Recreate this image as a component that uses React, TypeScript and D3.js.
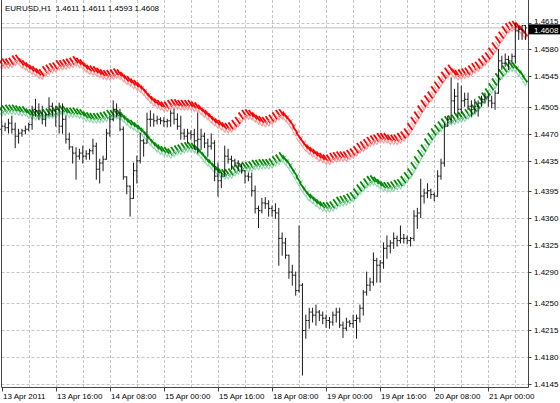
import React from 'react';
import * as d3 from 'd3';

const symbolTitle = 'EURUSD,H1';
const lastQuote = [1.4611, 1.4611, 1.4593, 1.4608];
const bidPrice = 1.4608;

const closes = [
  1.4480, 1.4478, 1.4484, 1.4476, 1.4467, 1.4471, 1.4474, 1.4476, 1.4482, 1.4502,
  1.4500, 1.4497, 1.4489, 1.4495, 1.4506, 1.4500, 1.4502, 1.4480, 1.4489, 1.4463,
  1.4453, 1.4445, 1.4441, 1.4445, 1.4441, 1.4444, 1.4448, 1.4454, 1.4424, 1.4432,
  1.4437, 1.4471, 1.4489, 1.4502, 1.4497, 1.4476, 1.4414, 1.4402, 1.4386, 1.4422,
  1.4435, 1.4461, 1.4458, 1.4489, 1.4489, 1.4487, 1.4489, 1.4487, 1.4486, 1.4487,
  1.4497, 1.4489, 1.4480, 1.4471, 1.4467, 1.4471, 1.4469, 1.4461, 1.4463, 1.4467,
  1.4458, 1.4454, 1.4458, 1.4415, 1.4409, 1.4415, 1.4441, 1.4437, 1.4435, 1.4432,
  1.4428, 1.4422, 1.4415, 1.4414, 1.4396, 1.4373, 1.4370, 1.4380, 1.4379, 1.4373,
  1.4370, 1.4367, 1.4334, 1.4328, 1.4312, 1.4290, 1.4286, 1.4266, 1.4273, 1.4214,
  1.4227, 1.4238, 1.4234, 1.4238, 1.4234, 1.4230, 1.4227, 1.4225, 1.4234, 1.4238,
  1.4221, 1.4217, 1.4225, 1.4223, 1.4227, 1.4230, 1.4243, 1.4264, 1.4273, 1.4277,
  1.4305, 1.4299, 1.4302, 1.4321, 1.4324, 1.4328, 1.4334, 1.4331, 1.4334, 1.4334,
  1.4331, 1.4334, 1.4363, 1.4367, 1.4389, 1.4393, 1.4396, 1.4391, 1.4389, 1.4415,
  1.4432, 1.4480, 1.4489, 1.4513, 1.4519, 1.4502, 1.4513, 1.4515, 1.4506, 1.4502,
  1.4506, 1.4510, 1.4515, 1.4518, 1.4513, 1.4510, 1.4523, 1.4565, 1.4562, 1.4567,
  1.4565, 1.4571, 1.4604, 1.4606, 1.4611, 1.4608,
];

const opens = [
  1.4476, 1.4480, 1.4478, 1.4484, 1.4476, 1.4467, 1.4471, 1.4474, 1.4476, 1.4482,
  1.4502, 1.4500, 1.4497, 1.4489, 1.4495, 1.4506, 1.4500, 1.4502, 1.4480, 1.4489,
  1.4463, 1.4453, 1.4445, 1.4441, 1.4445, 1.4441, 1.4444, 1.4448, 1.4454, 1.4424,
  1.4432, 1.4437, 1.4471, 1.4489, 1.4502, 1.4497, 1.4476, 1.4414, 1.4402, 1.4386,
  1.4422, 1.4435, 1.4461, 1.4458, 1.4489, 1.4489, 1.4487, 1.4489, 1.4487, 1.4486,
  1.4487, 1.4497, 1.4489, 1.4480, 1.4471, 1.4467, 1.4471, 1.4469, 1.4461, 1.4463,
  1.4467, 1.4458, 1.4454, 1.4458, 1.4415, 1.4409, 1.4415, 1.4441, 1.4437, 1.4435,
  1.4432, 1.4428, 1.4422, 1.4415, 1.4414, 1.4396, 1.4373, 1.4370, 1.4380, 1.4379,
  1.4373, 1.4370, 1.4367, 1.4334, 1.4328, 1.4312, 1.4290, 1.4286, 1.4266, 1.4273,
  1.4214, 1.4227, 1.4238, 1.4234, 1.4238, 1.4234, 1.4230, 1.4227, 1.4225, 1.4234,
  1.4238, 1.4221, 1.4217, 1.4225, 1.4223, 1.4227, 1.4230, 1.4243, 1.4264, 1.4273,
  1.4277, 1.4305, 1.4299, 1.4302, 1.4321, 1.4324, 1.4328, 1.4334, 1.4331, 1.4334,
  1.4334, 1.4331, 1.4334, 1.4363, 1.4367, 1.4389, 1.4393, 1.4396, 1.4391, 1.4389,
  1.4415, 1.4432, 1.4480, 1.4489, 1.4513, 1.4519, 1.4502, 1.4513, 1.4515, 1.4506,
  1.4502, 1.4506, 1.4510, 1.4515, 1.4518, 1.4513, 1.4510, 1.4523, 1.4565, 1.4562,
  1.4567, 1.4565, 1.4571, 1.4604, 1.4606, 1.4611,
];

const highs = [
  1.4487, 1.4484, 1.4489, 1.4493, 1.4484, 1.4476, 1.4476, 1.4480, 1.4484, 1.4506,
  1.4515, 1.4509, 1.4506, 1.4497, 1.4517, 1.4510, 1.4506, 1.4510, 1.4509, 1.4493,
  1.4471, 1.4453, 1.4452, 1.4450, 1.4454, 1.4448, 1.4450, 1.4463, 1.4458, 1.4437,
  1.4441, 1.4476, 1.4493, 1.4513, 1.4509, 1.4502, 1.4479, 1.4414, 1.4402, 1.4432,
  1.4441, 1.4471, 1.4463, 1.4497, 1.4500, 1.4496, 1.4493, 1.4491, 1.4491, 1.4489,
  1.4500, 1.4502, 1.4496, 1.4493, 1.4476, 1.4476, 1.4474, 1.4476, 1.4497, 1.4476,
  1.4471, 1.4463, 1.4470, 1.4461, 1.4432, 1.4419, 1.4454, 1.4450, 1.4441, 1.4437,
  1.4435, 1.4431, 1.4422, 1.4419, 1.4419, 1.4402, 1.4376, 1.4386, 1.4387, 1.4383,
  1.4376, 1.4379, 1.4373, 1.4341, 1.4334, 1.4312, 1.4299, 1.4290, 1.4350, 1.4275,
  1.4234, 1.4243, 1.4243, 1.4247, 1.4240, 1.4238, 1.4234, 1.4231, 1.4238, 1.4243,
  1.4243, 1.4225, 1.4230, 1.4227, 1.4234, 1.4234, 1.4247, 1.4266, 1.4290, 1.4282,
  1.4315, 1.4308, 1.4305, 1.4328, 1.4337, 1.4331, 1.4341, 1.4337, 1.4350, 1.4339,
  1.4337, 1.4335, 1.4370, 1.4373, 1.4411, 1.4398, 1.4405, 1.4398, 1.4393, 1.4422,
  1.4437, 1.4484, 1.4493, 1.4543, 1.4528, 1.4536, 1.4532, 1.4523, 1.4523, 1.4513,
  1.4515, 1.4513, 1.4519, 1.4523, 1.4522, 1.4519, 1.4526, 1.4580, 1.4571, 1.4574,
  1.4571, 1.4574, 1.4614, 1.4610, 1.4611, 1.4611,
];

const lows = [
  1.4470, 1.4474, 1.4471, 1.4471, 1.4452, 1.4458, 1.4467, 1.4470, 1.4474, 1.4476,
  1.4493, 1.4489, 1.4483, 1.4480, 1.4493, 1.4493, 1.4480, 1.4471, 1.4471, 1.4458,
  1.4450, 1.4432, 1.4411, 1.4437, 1.4432, 1.4437, 1.4437, 1.4444, 1.4411, 1.4406,
  1.4422, 1.4437, 1.4467, 1.4487, 1.4492, 1.4474, 1.4411, 1.4392, 1.4363, 1.4386,
  1.4406, 1.4432, 1.4441, 1.4458, 1.4480, 1.4480, 1.4483, 1.4483, 1.4480, 1.4479,
  1.4480, 1.4483, 1.4476, 1.4463, 1.4463, 1.4458, 1.4463, 1.4450, 1.4445, 1.4450,
  1.4452, 1.4441, 1.4450, 1.4409, 1.4389, 1.4400, 1.4415, 1.4432, 1.4424, 1.4427,
  1.4422, 1.4419, 1.4406, 1.4409, 1.4389, 1.4367, 1.4348, 1.4367, 1.4373, 1.4363,
  1.4363, 1.4360, 1.4299, 1.4312, 1.4308, 1.4282, 1.4273, 1.4260, 1.4264, 1.4156,
  1.4204, 1.4217, 1.4225, 1.4221, 1.4227, 1.4223, 1.4218, 1.4217, 1.4221, 1.4225,
  1.4218, 1.4205, 1.4214, 1.4219, 1.4218, 1.4204, 1.4225, 1.4234, 1.4260, 1.4266,
  1.4273, 1.4277, 1.4277, 1.4295, 1.4308, 1.4315, 1.4321, 1.4324, 1.4328, 1.4328,
  1.4327, 1.4324, 1.4331, 1.4347, 1.4361, 1.4380, 1.4387, 1.4386, 1.4383, 1.4389,
  1.4411, 1.4428, 1.4480, 1.4484, 1.4497, 1.4493, 1.4497, 1.4506, 1.4502, 1.4493,
  1.4497, 1.4493, 1.4506, 1.4510, 1.4506, 1.4504, 1.4502, 1.4523, 1.4554, 1.4558,
  1.4554, 1.4562, 1.4562, 1.4593, 1.4593, 1.4593,
];

const upperBand = [
  1.4561, 1.4562, 1.4562, 1.4563, 1.4566, 1.4567, 1.4562, 1.4560, 1.4557, 1.4554,
  1.4552, 1.4549, 1.4548, 1.4552, 1.4554, 1.4556, 1.4557, 1.4560, 1.4560, 1.4561,
  1.4562, 1.4563, 1.4565, 1.4563, 1.4561, 1.4557, 1.4554, 1.4553, 1.4552, 1.4550,
  1.4548, 1.4547, 1.4547, 1.4548, 1.4549, 1.4548, 1.4545, 1.4541, 1.4539, 1.4536,
  1.4534, 1.4531, 1.4527, 1.4522, 1.4517, 1.4513, 1.4510, 1.4508, 1.4506, 1.4506,
  1.4508, 1.4509, 1.4509, 1.4508, 1.4508, 1.4508, 1.4508, 1.4506, 1.4505, 1.4502,
  1.4498, 1.4495, 1.4491, 1.4487, 1.4484, 1.4482, 1.4479, 1.4478, 1.4479, 1.4482,
  1.4486, 1.4492, 1.4495, 1.4496, 1.4495, 1.4492, 1.4489, 1.4487, 1.4486, 1.4487,
  1.4489, 1.4492, 1.4495, 1.4496, 1.4493, 1.4488, 1.4482, 1.4474, 1.4466, 1.4460,
  1.4454, 1.4450, 1.4447, 1.4444, 1.4441, 1.4439, 1.4437, 1.4437, 1.4439, 1.4440,
  1.4441, 1.4441, 1.4441, 1.4443, 1.4445, 1.4448, 1.4452, 1.4454, 1.4457, 1.4460,
  1.4462, 1.4463, 1.4465, 1.4465, 1.4465, 1.4463, 1.4463, 1.4463, 1.4465, 1.4467,
  1.4471, 1.4478, 1.4486, 1.4493, 1.4501, 1.4508, 1.4514, 1.4519, 1.4526, 1.4532,
  1.4539, 1.4545, 1.4550, 1.4554, 1.4549, 1.4547, 1.4548, 1.4549, 1.4550, 1.4553,
  1.4556, 1.4558, 1.4562, 1.4566, 1.4570, 1.4576, 1.4583, 1.4591, 1.4597, 1.4604,
  1.4608, 1.4610, 1.4611, 1.4609, 1.4605, 1.4600,
];

const lowerBand = [
  1.4500, 1.4501, 1.4502, 1.4502, 1.4502, 1.4501, 1.4500, 1.4500, 1.4497, 1.4496,
  1.4495, 1.4495, 1.4495, 1.4496, 1.4497, 1.4497, 1.4498, 1.4500, 1.4501, 1.4500,
  1.4498, 1.4498, 1.4498, 1.4497, 1.4496, 1.4493, 1.4492, 1.4491, 1.4491, 1.4491,
  1.4492, 1.4493, 1.4495, 1.4495, 1.4496, 1.4495, 1.4492, 1.4488, 1.4484, 1.4482,
  1.4479, 1.4476, 1.4472, 1.4467, 1.4462, 1.4457, 1.4453, 1.4450, 1.4448, 1.4447,
  1.4445, 1.4447, 1.4449, 1.4450, 1.4452, 1.4453, 1.4453, 1.4452, 1.4449, 1.4445,
  1.4440, 1.4435, 1.4431, 1.4426, 1.4422, 1.4419, 1.4418, 1.4418, 1.4419, 1.4422,
  1.4424, 1.4426, 1.4427, 1.4427, 1.4428, 1.4430, 1.4430, 1.4431, 1.4431, 1.4431,
  1.4432, 1.4435, 1.4437, 1.4440, 1.4436, 1.4431, 1.4424, 1.4417, 1.4409, 1.4401,
  1.4395, 1.4389, 1.4386, 1.4382, 1.4379, 1.4376, 1.4375, 1.4375, 1.4376, 1.4379,
  1.4382, 1.4383, 1.4384, 1.4386, 1.4388, 1.4393, 1.4398, 1.4402, 1.4406, 1.4409,
  1.4410, 1.4408, 1.4405, 1.4402, 1.4401, 1.4401, 1.4402, 1.4404, 1.4405, 1.4409,
  1.4414, 1.4419, 1.4427, 1.4435, 1.4443, 1.4450, 1.4458, 1.4465, 1.4471, 1.4476,
  1.4480, 1.4484, 1.4487, 1.4488, 1.4489, 1.4491, 1.4492, 1.4493, 1.4496, 1.4498,
  1.4502, 1.4506, 1.4513, 1.4518, 1.4523, 1.4530, 1.4536, 1.4543, 1.4548, 1.4553,
  1.4557, 1.4558, 1.4557, 1.4552, 1.4547, 1.4540,
];

const priceTicks = [
  1.4615, 1.458, 1.4545, 1.4505, 1.447, 1.4435, 1.4395, 1.436, 1.4325, 1.429,
  1.425, 1.4215, 1.418, 1.4145,
];

const timeTickIndex = [0, 16, 32, 48, 64, 80, 96, 112, 128, 144];
const timeTickLabels = [
  '13 Apr 2011', '13 Apr 16:00', '14 Apr 08:00', '15 Apr 00:00', '15 Apr 16:00',
  '18 Apr 08:00', '19 Apr 00:00', '19 Apr 16:00', '20 Apr 08:00', '21 Apr 00:00',
];
const gridBarStep = 8;

const W = 560;
const H = 403;
const plotLeft = 1.5;
const plotRight = 528.5;
const plotBottom = 387.5;
const font = "'Liberation Sans', Arial, sans-serif";

export default function App() {
  const x = d3.scaleLinear().domain([0, 144]).range([1.7, 488.3]);
  const y = d3.scaleLinear().domain([1.4145, 1.4615]).range([383.5, 22.5]);

  const n = closes.length;
  const gridIdx = d3.range(gridBarStep, n, gridBarStep);
  const fmt = d3.format('.4f');
  const yBid = y(bidPrice);

  return (
    <svg
      width={W}
      height={H}
      style={{ position: 'absolute', left: 0, top: 0, background: '#fff' }}
    >
      <rect x={0} y={0} width={W} height={H} fill="#fff" />
      {/* grid */}
      <g stroke="#c4c4c4" strokeWidth={1} strokeDasharray="3,2">
        {priceTicks.map((p, i) => (
          <line key={'h' + i} x1={plotLeft} x2={plotRight} y1={Math.round(y(p)) + 0.5} y2={Math.round(y(p)) + 0.5} />
        ))}
        {gridIdx.map((g) => (
          <line key={'v' + g} x1={Math.round(x(g)) + 0.5} x2={Math.round(x(g)) + 0.5} y1={0} y2={plotBottom} />
        ))}
      </g>
      {/* bid line */}
      <line x1={plotLeft} x2={plotRight} y1={yBid} y2={yBid} stroke="#bdbdbd" strokeWidth={1} />

      {/* upper band glyphs */}
      <g>
        {upperBand.map((v, i) => (
          <g key={'u' + i} transform={`translate(${x(i)},${y(v)})`}>
            <path d="M-3,0.8 L0.2,5.2 L3.4,-1" fill="none" stroke="#ff9a9a" strokeWidth={1.1} />
            <path d="M-3,-4.6 L1.8,2.2" fill="none" stroke="#ff0000" strokeWidth={1.8} />
          </g>
        ))}
      </g>
      {/* lower band glyphs */}
      <g>
        {lowerBand.map((v, i) => (
          <g key={'l' + i} transform={`translate(${x(i)},${y(v)})`}>
            <path d="M-3,0.8 L0.2,5.2 L3.4,-1" fill="none" stroke="#8fd8b0" strokeWidth={1.1} />
            <path d="M-3,-4.6 L1.8,2.2" fill="none" stroke="#008a00" strokeWidth={1.8} />
          </g>
        ))}
      </g>

      {/* OHLC bars */}
      <g stroke="#1a1a1a" strokeWidth={1}>
        {closes.map((c, i) => {
          const bx = x(i);
          return (
            <g key={'b' + i}>
              <line x1={bx} x2={bx} y1={y(highs[i]) - 0.5} y2={y(lows[i]) + 0.5} />
              <line x1={bx - 1.5} x2={bx} y1={y(opens[i])} y2={y(opens[i])} />
              <line x1={bx} x2={bx + 1.5} y1={y(c)} y2={y(c)} />
            </g>
          );
        })}
      </g>

      {/* frame */}
      <line x1={plotLeft} x2={plotLeft} y1={0} y2={plotBottom} stroke="#444" />
      <line x1={plotLeft} x2={plotRight} y1={plotBottom} y2={plotBottom} stroke="#444" />
      <line x1={plotRight} x2={plotRight} y1={0} y2={plotBottom} stroke="#444" />

      {/* price axis */}
      <g fontFamily={font} fontSize={8} fill="#000">
        {priceTicks.map((p, i) => (
          <g key={'pt' + i}>
            <line x1={plotRight} x2={plotRight + 3} y1={Math.round(y(p)) + 0.5} y2={Math.round(y(p)) + 0.5} stroke="#444" />
            <text x={534} y={i === 0 ? y(p) + 1.5 : y(p) + 3}>{fmt(p)}</text>
          </g>
        ))}
      </g>
      {/* current price label */}
      <rect x={plotRight} y={yBid - 3.5} width={W - plotRight} height={10} fill="#000" />
      <text x={534} y={yBid + 4.8} fontFamily={font} fontSize={8} fill="#fff">{fmt(bidPrice)}</text>

      {/* time axis */}
      <g fontFamily={font} fontSize={8} fill="#000">
        {timeTickIndex.map((t, i) => (
          <g key={'tt' + i}>
            <line x1={Math.round(x(t)) + 0.5} x2={Math.round(x(t)) + 0.5} y1={plotBottom} y2={plotBottom + 4} stroke="#444" />
            <text x={Math.round(x(t)) + 1} y={398.5}>{timeTickLabels[i]}</text>
          </g>
        ))}
      </g>

      {/* title */}
      <text x={5} y={11} fontFamily={font} fontSize={8} fill="#000" xmlSpace="preserve">
        {symbolTitle + '  ' + lastQuote.map((q) => fmt(q)).join(' ')}
      </text>
    </svg>
  );
}
